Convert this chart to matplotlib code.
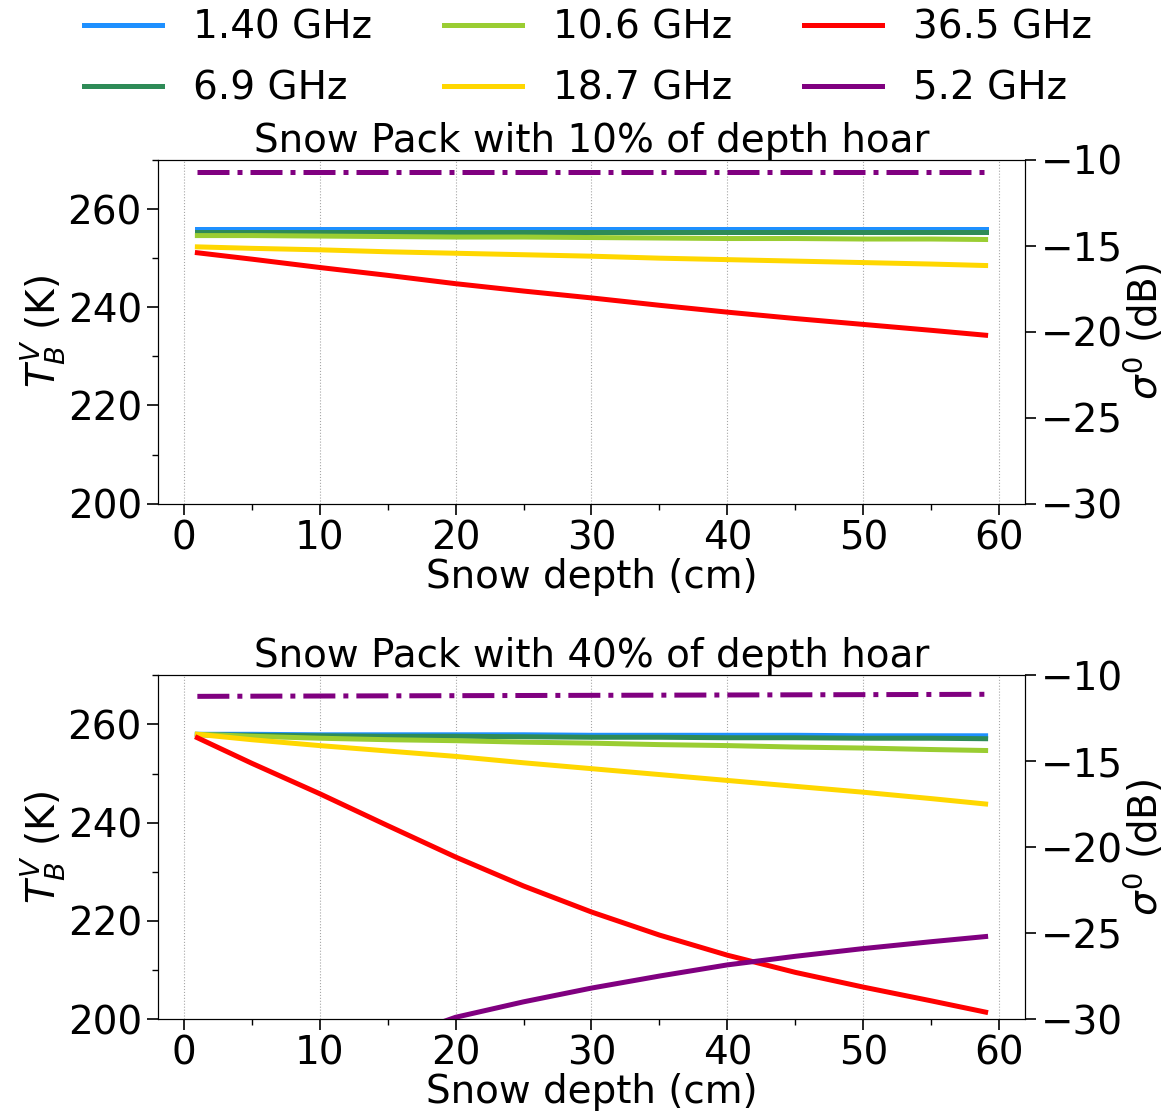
import matplotlib
matplotlib.use("Agg")
import matplotlib.pyplot as plt
from matplotlib.ticker import MultipleLocator

# === data ===
depth = [1, 5, 10, 15, 20, 25, 30, 35, 40, 45, 50, 55, 59]

freqs = ["1.40 GHz", "6.9 GHz", "10.6 GHz", "18.7 GHz", "36.5 GHz"]
colors = ["#1e90ff", "#2e8b57", "#9acd32", "#ffd700", "#ff0000"]

# Snow pack with 10% of depth hoar
tb_10 = {
    "1.40 GHz": [255.9, 255.9, 255.9, 255.9, 255.9, 255.9, 255.9, 255.9, 255.9, 255.9, 255.9, 255.9, 255.9],
    "6.9 GHz":  [255.4, 255.4, 255.4, 255.4, 255.4, 255.4, 255.4, 255.4, 255.4, 255.4, 255.4, 255.4, 255.4],
    "10.6 GHz": [254.6, 254.6, 254.5, 254.4, 254.3, 254.3, 254.2, 254.1, 254.0, 254.0, 253.9, 253.9, 253.8],
    "18.7 GHz": [252.3, 252.0, 251.7, 251.3, 251.0, 250.7, 250.4, 250.0, 249.7, 249.4, 249.1, 248.8, 248.5],
    "36.5 GHz": [251.1, 249.8, 248.1, 246.5, 244.8, 243.3, 241.9, 240.4, 239.0, 237.7, 236.5, 235.3, 234.3],
}
sig_vv_10 = [-10.68] * len(depth)
sig_vh_10 = [-36.0, -35.8, -35.5, -35.3, -35.1, -34.9, -34.7, -34.5, -34.3, -34.1, -34.0, -33.8, -33.7]

# Snow pack with 40% of depth hoar
tb_40 = {
    "1.40 GHz": [258.0, 258.0, 257.9, 257.9, 257.9, 257.9, 257.8, 257.8, 257.8, 257.8, 257.7, 257.7, 257.7],
    "6.9 GHz":  [257.9, 257.8, 257.7, 257.6, 257.6, 257.5, 257.4, 257.4, 257.3, 257.3, 257.2, 257.2, 257.1],
    "10.6 GHz": [258.0, 257.6, 257.2, 256.9, 256.7, 256.4, 256.2, 255.9, 255.7, 255.4, 255.2, 254.9, 254.7],
    "18.7 GHz": [258.0, 256.9, 255.7, 254.6, 253.5, 252.2, 251.0, 249.8, 248.6, 247.4, 246.2, 244.9, 243.8],
    "36.5 GHz": [257.3, 252.1, 245.9, 239.4, 233.0, 227.1, 221.8, 217.1, 213.0, 209.5, 206.5, 203.7, 201.4],
}
sig_vv_40 = [-11.22, -11.21, -11.20, -11.19, -11.18, -11.17, -11.16, -11.15, -11.14, -11.13, -11.12, -11.11, -11.10]
sig_vh_40 = [-37.0, -35.0, -33.0, -31.3, -29.9, -29.0, -28.2, -27.5, -26.85, -26.35, -25.9, -25.5, -25.2]

panels = [
    ("Snow Pack with 10% of depth hoar", tb_10, sig_vv_10, sig_vh_10),
    ("Snow Pack with 40% of depth hoar", tb_40, sig_vv_40, sig_vh_40),
]

fs = 28
plt.rcParams["font.family"] = ["DejaVu Sans"]
plt.rcParams["font.size"] = fs

fig, axes = plt.subplots(2, 1, figsize=(11.64, 11.11), dpi=100)
fig.subplots_adjust(left=0.1357, right=0.8806, top=0.856, bottom=0.0828, hspace=0.5)

for ax, (title, tb, sig_vv, sig_vh) in zip(axes, panels):
    for f, c in zip(freqs, colors):
        ax.plot(depth, tb[f], color=c, lw=3.6, label=f)
    ax.set_ylim(200, 270)
    ax.set_yticks([200, 220, 240, 260])
    ax.yaxis.set_minor_locator(MultipleLocator(10))
    ax.xaxis.set_major_locator(MultipleLocator(10))
    ax.xaxis.set_minor_locator(MultipleLocator(5))
    ax.grid(axis="x", which="major", ls=":", color="gray", lw=0.8, alpha=0.7)
    ax.set_xlabel("Snow depth (cm)", fontsize=fs, labelpad=0)
    ax.set_ylabel("$T_B^V$ (K)", fontsize=fs, labelpad=0)
    ax.set_title(title, fontsize=fs, pad=2)
    ax.tick_params(labelsize=fs, length=8, width=1.2)
    ax.tick_params(which="minor", length=4, width=1.0)

    ax2 = ax.twinx()
    ax2.plot(depth, sig_vv, color="purple", lw=3.6, ls="-.")
    ax2.plot(depth, sig_vh, color="purple", lw=3.6, label="5.2 GHz")
    ax2.set_ylim(-30, -10)
    ax2.set_yticks([-30, -25, -20, -15, -10])
    ax2.set_ylabel("$\\sigma^0$ (dB)", fontsize=fs, labelpad=-1.5)
    ax2.tick_params(labelsize=fs, length=8, width=1.2)

h1, l1 = axes[0].get_legend_handles_labels()
h2, l2 = ax2.get_legend_handles_labels()
fig.legend(h1 + h2, l1 + l2, loc="upper center", bbox_to_anchor=(0.505, 1.024),
           ncol=3, frameon=False, fontsize=fs, handlelength=2.0,
           columnspacing=1.85, labelspacing=0.6)

plt.savefig("out.png", dpi=100)
